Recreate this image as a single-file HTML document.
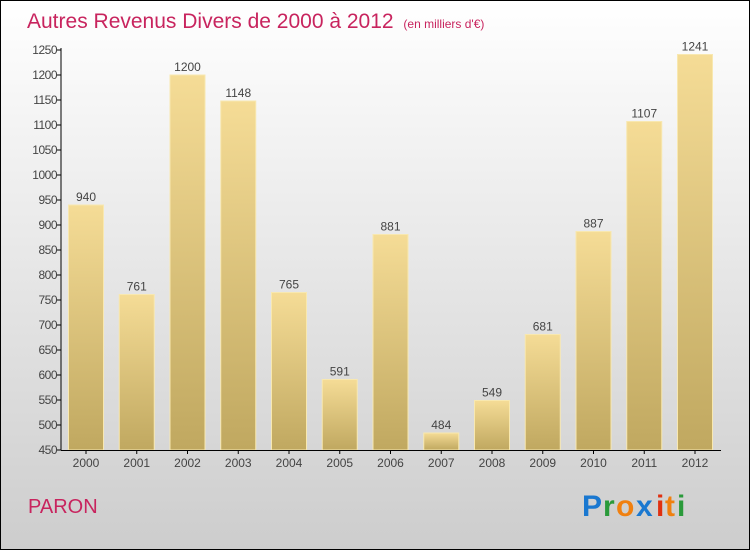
<!DOCTYPE html>
<html><head><meta charset="utf-8"><style>
body{margin:0;}
svg{display:block;font-family:"Liberation Sans",sans-serif;}
</style></head><body>
<svg width="750" height="550" viewBox="0 0 750 550" id="c">
<defs>
<linearGradient id="bg" x1="0" y1="0" x2="0" y2="1"><stop offset="0" stop-color="#ffffff"/><stop offset="1" stop-color="#cdcdcd"/></linearGradient>
<linearGradient id="bar" x1="0" y1="0" x2="0" y2="1"><stop offset="0" stop-color="#f5dc96"/><stop offset="1" stop-color="#c0a860"/></linearGradient>
</defs>
<rect x="0.5" y="0.5" width="749" height="549" fill="url(#bg)" stroke="#000"/>
<text x="27" y="28" font-size="21" fill="#c8245e">Autres Revenus Divers de 2000 à 2012 <tspan font-size="12" dx="4">(en milliers d'€)</tspan></text>
<g id="bars"></g>
<g id="axes"></g>
<text x="28" y="513" font-size="20" fill="#c8245e">PARON</text>
<g font-size="30" font-weight="bold" font-family="'Liberation Sans',sans-serif">
<text x="582" y="516" fill="#1a78d0">P</text><text x="603" y="516" fill="#2a9a3a">r</text><text x="616" y="516" fill="#f08010">o</text><text x="636" y="516" fill="#1a78d0">x</text><text x="656" y="516" fill="#e03010">i</text><text x="665" y="516" fill="#f08010">t</text><text x="677" y="516" fill="#2a9a3a">i</text>
</g>
</svg>
<script>
const years=["2000","2001","2002","2003","2004","2005","2006","2007","2008","2009","2010","2011","2012"];
const values=[940,761,1200,1148,765,591,881,484,549,681,887,1107,1241];
const yTicks=[450,500,550,600,650,700,750,800,850,900,950,1000,1050,1100,1150,1200,1250];
const NS="http://www.w3.org/2000/svg";
const y=v=>450-(v-450)*0.5;
const x=i=>86+i*50.75;
function mk(t,a,p){const e=document.createElementNS(NS,t);for(const k in a)e.setAttribute(k,a[k]);p.appendChild(e);return e;}
const bars=document.getElementById('bars'),axes=document.getElementById('axes');
values.forEach((v,i)=>{
 const r=mk('rect',{x:x(i)-17.5,y:y(v),width:35,height:450-y(v),fill:'url(#bar)',stroke:'#f8e8b0','stroke-width':1},bars);
 
 
 const t=mk('text',{x:x(i),y:y(v)-4,'text-anchor':'middle','font-size':12,fill:'#444'},bars);t.textContent=v;
 
 
 const l=mk('text',{x:x(i),y:467,'text-anchor':'middle','font-size':12,fill:'#444'},axes);l.textContent=years[i];
 
 
 mk('line',{x1:x(i),x2:x(i),y1:450,y2:454,stroke:'#000'},axes);
});
mk('line',{x1:61,x2:61,y1:48,y2:450,stroke:'#000'},axes);
mk('line',{x1:61,x2:721,y1:450.5,y2:450.5,stroke:'#000'},axes);
yTicks.forEach(v=>{
 mk('line',{x1:57,x2:61,y1:y(v),y2:y(v),stroke:'#000'},axes);
 const t=mk('text',{x:57,y:y(v)+4,'text-anchor':'end','font-size':12,fill:'#444','letter-spacing':'-0.5'},axes);t.textContent=v;
 
 
});
</script>
</body></html>
